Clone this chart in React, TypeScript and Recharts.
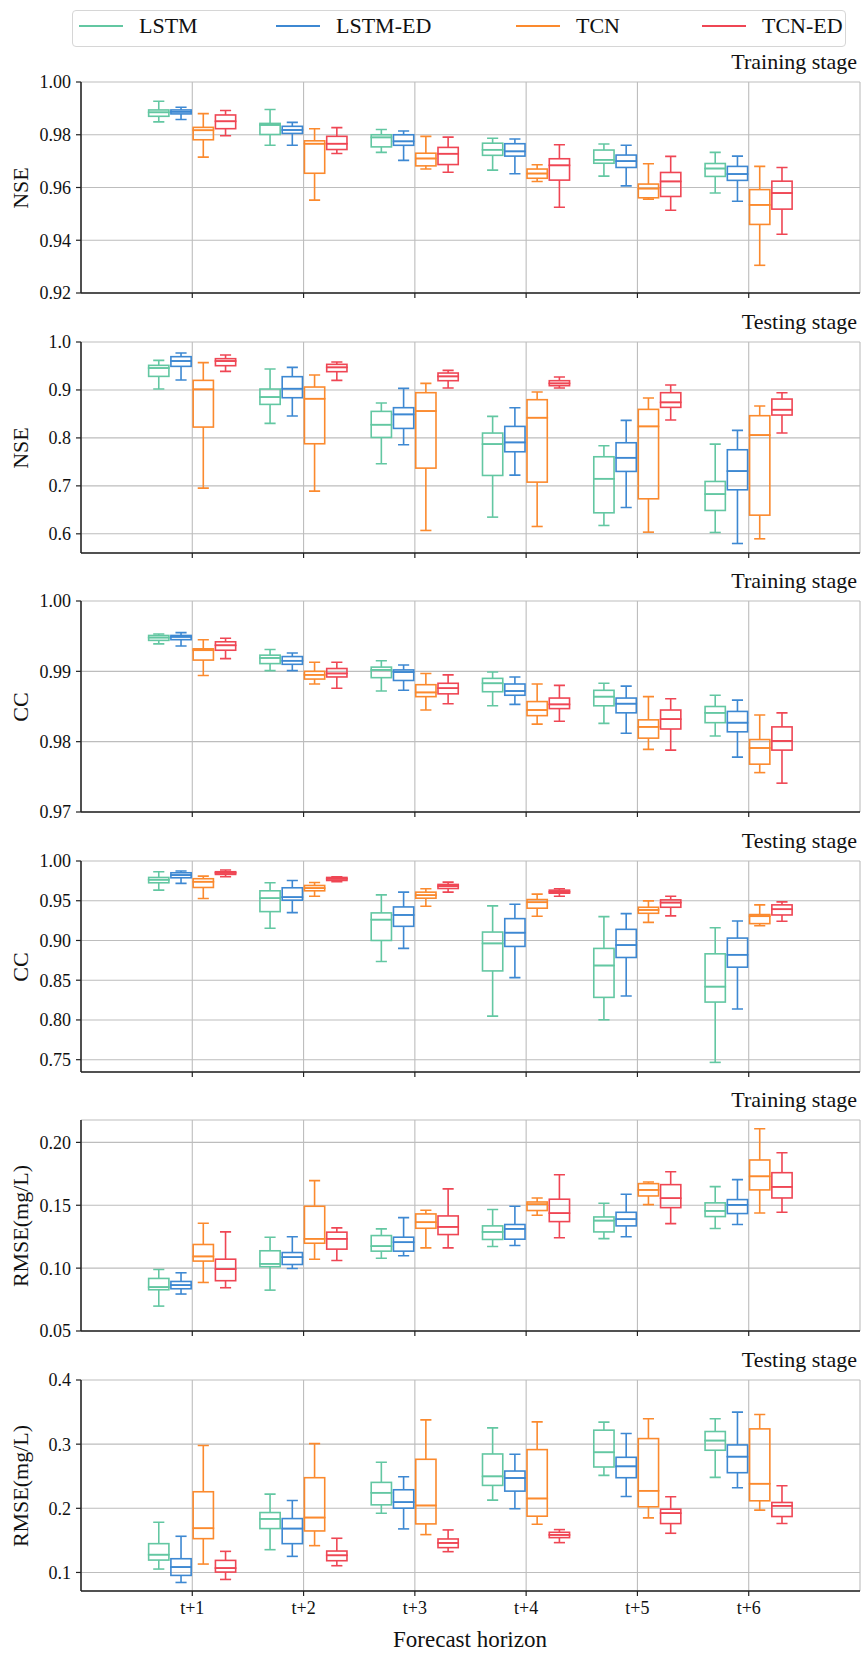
import React from "react";
import { ComposedChart, Bar, XAxis, YAxis, CartesianGrid } from "recharts";

const FONT = "'Liberation Serif', 'Times New Roman', serif";

const horizons = ["t+1", "t+2", "t+3", "t+4", "t+5", "t+6"];
const models = ["LSTM", "LSTM-ED", "TCN", "TCN-ED"];
const modelColors = ["#63c7a2", "#3d88d2", "#fb8a2e", "#ef4654"];

// each row: [lower whisker, q1, median, q3, upper whisker] for t+1 .. t+6
const nseTrainLstm = [
  [0.9849, 0.987, 0.9885, 0.9894, 0.9927],
  [0.976, 0.9801, 0.9837, 0.9843, 0.9896],
  [0.9733, 0.9754, 0.979, 0.98, 0.982],
  [0.9666, 0.9722, 0.9743, 0.9768, 0.9787],
  [0.9643, 0.9692, 0.9705, 0.9742, 0.9765],
  [0.9579, 0.9642, 0.9672, 0.9691, 0.9733],
];
const nseTrainLstmEd = [
  [0.9858, 0.9879, 0.9887, 0.9894, 0.9904],
  [0.976, 0.9805, 0.9818, 0.9832, 0.9847],
  [0.9703, 0.976, 0.9775, 0.98, 0.9814],
  [0.9652, 0.9719, 0.9737, 0.9766, 0.9784],
  [0.9606, 0.9676, 0.97, 0.9723, 0.976],
  [0.9548, 0.9627, 0.9651, 0.968, 0.9719],
];
const nseTrainTcn = [
  [0.9715, 0.9781, 0.9817, 0.9828, 0.988],
  [0.9552, 0.9654, 0.9766, 0.9777, 0.9823],
  [0.967, 0.9682, 0.971, 0.973, 0.9794],
  [0.9623, 0.9635, 0.9653, 0.967, 0.9686],
  [0.9556, 0.9561, 0.9596, 0.9613, 0.969],
  [0.9305, 0.946, 0.9534, 0.9592, 0.968],
];
const nseTrainTcnEd = [
  [0.9796, 0.9823, 0.9851, 0.9875, 0.9892],
  [0.9729, 0.9744, 0.9766, 0.9794, 0.9827],
  [0.9658, 0.9687, 0.9728, 0.9752, 0.9791],
  [0.9525, 0.9628, 0.9684, 0.9709, 0.9762],
  [0.9514, 0.9566, 0.9623, 0.9657, 0.9718],
  [0.9423, 0.9518, 0.9579, 0.9624, 0.9676],
];

const nseTestLstm = [
  [0.9019, 0.9283, 0.9457, 0.9513, 0.9617],
  [0.8303, 0.8699, 0.8852, 0.9019, 0.9437],
  [0.7461, 0.801, 0.8275, 0.8553, 0.8727],
  [0.6348, 0.7217, 0.7871, 0.8101, 0.8449],
  [0.6174, 0.6438, 0.7148, 0.7607, 0.7837],
  [0.6028, 0.6487, 0.6828, 0.7092, 0.7871],
];
const nseTestLstmEd = [
  [0.9207, 0.9492, 0.9603, 0.9694, 0.977],
  [0.8456, 0.8838, 0.9026, 0.9277, 0.9471],
  [0.7857, 0.8198, 0.849, 0.863, 0.9033],
  [0.7224, 0.7711, 0.7906, 0.824, 0.863],
  [0.655, 0.7301, 0.7586, 0.7899, 0.8365],
  [0.5798, 0.6918, 0.7308, 0.7753, 0.8157],
];
const nseTestTcn = [
  [0.6953, 0.8226, 0.9012, 0.92, 0.9569],
  [0.689, 0.7878, 0.8817, 0.9061, 0.9311],
  [0.607, 0.737, 0.856, 0.8943, 0.9137],
  [0.6153, 0.7078, 0.8421, 0.8797, 0.8957],
  [0.6035, 0.673, 0.824, 0.8595, 0.8831],
  [0.5896, 0.6389, 0.8059, 0.8463, 0.8664],
];
const nseTestTcnEd = [
  [0.9388, 0.9506, 0.9603, 0.9652, 0.9729],
  [0.92, 0.9381, 0.9471, 0.9534, 0.9583],
  [0.904, 0.9193, 0.9283, 0.9353, 0.9409],
  [0.904, 0.9089, 0.9137, 0.9193, 0.927],
  [0.8372, 0.8637, 0.8741, 0.8943, 0.9103],
  [0.8101, 0.8477, 0.8588, 0.881, 0.8943],
];

const ccTrainLstm = [
  [0.9939, 0.9944, 0.9948, 0.9951, 0.9953],
  [0.9901, 0.9911, 0.9919, 0.9923, 0.9931],
  [0.9872, 0.9891, 0.9902, 0.9906, 0.9915],
  [0.9851, 0.9871, 0.9883, 0.989, 0.9899],
  [0.9826, 0.9851, 0.9864, 0.9873, 0.9883],
  [0.9808, 0.9827, 0.9841, 0.985, 0.9866],
];
const ccTrainLstmEd = [
  [0.9936, 0.9945, 0.9949, 0.9951, 0.9955],
  [0.9901, 0.991, 0.9915, 0.9921, 0.9926],
  [0.9873, 0.9887, 0.9899, 0.9902, 0.9909],
  [0.9853, 0.9866, 0.9872, 0.9882, 0.9892],
  [0.9812, 0.9841, 0.9854, 0.9862, 0.9879],
  [0.9778, 0.9814, 0.9827, 0.9843, 0.9859],
];
const ccTrainTcn = [
  [0.9894, 0.9916, 0.993, 0.9932, 0.9945],
  [0.9882, 0.9889, 0.9895, 0.99, 0.9913],
  [0.9845, 0.9864, 0.987, 0.9881, 0.9897],
  [0.9825, 0.9837, 0.9845, 0.9857, 0.9882],
  [0.9789, 0.9805, 0.9821, 0.9831, 0.9864],
  [0.9756, 0.9768, 0.9791, 0.9803, 0.9838],
];
const ccTrainTcnEd = [
  [0.9918, 0.993, 0.9937, 0.9942, 0.9947],
  [0.9876, 0.9892, 0.9897, 0.9904, 0.9913],
  [0.9854, 0.9868, 0.9876, 0.9883, 0.9895],
  [0.9829, 0.9847, 0.9853, 0.9862, 0.988],
  [0.9788, 0.9818, 0.9832, 0.9845, 0.9861],
  [0.9741, 0.9788, 0.9801, 0.9821, 0.9841],
];

const ccTestLstm = [
  [0.9633, 0.9726, 0.9764, 0.9793, 0.9865],
  [0.9153, 0.9363, 0.9532, 0.9625, 0.9726],
  [0.8735, 0.9, 0.9262, 0.9347, 0.9574],
  [0.8048, 0.8617, 0.8963, 0.9106, 0.9435],
  [0.8002, 0.8284, 0.8685, 0.89, 0.93],
  [0.7466, 0.8225, 0.8419, 0.8832, 0.9161],
];
const ccTestLstmEd = [
  [0.9718, 0.9789, 0.9823, 0.9852, 0.9874],
  [0.9351, 0.9507, 0.9545, 0.9663, 0.9755],
  [0.89, 0.9178, 0.9321, 0.9422, 0.9608],
  [0.8533, 0.8925, 0.9098, 0.9275, 0.9456],
  [0.8301, 0.8786, 0.8942, 0.914, 0.9338],
  [0.8137, 0.8664, 0.882, 0.903, 0.9245],
];
const ccTestTcn = [
  [0.9528, 0.9667, 0.9739, 0.9777, 0.981],
  [0.9557, 0.9625, 0.9659, 0.9692, 0.973],
  [0.9431, 0.9532, 0.957, 0.9608, 0.965],
  [0.9304, 0.9406, 0.9481, 0.9515, 0.9583],
  [0.9228, 0.9342, 0.9384, 0.9418, 0.9498],
  [0.9186, 0.9212, 0.9305, 0.9326, 0.9448],
];
const ccTestTcnEd = [
  [0.9802, 0.9831, 0.9852, 0.9865, 0.9886],
  [0.9739, 0.9755, 0.9777, 0.9793, 0.9802],
  [0.9608, 0.9654, 0.9684, 0.9705, 0.9734],
  [0.9557, 0.9595, 0.9612, 0.9633, 0.965],
  [0.9309, 0.9418, 0.9477, 0.9511, 0.9557],
  [0.9241, 0.9321, 0.9393, 0.9448, 0.9486],
];

const rmseTrainLstm = [
  [0.0698, 0.0828, 0.0849, 0.0918, 0.0989],
  [0.0825, 0.1011, 0.1034, 0.1138, 0.1246],
  [0.1079, 0.1135, 0.1175, 0.1259, 0.1312],
  [0.1172, 0.1228, 0.1288, 0.1336, 0.1466],
  [0.1235, 0.1288, 0.1378, 0.1407, 0.1516],
  [0.1315, 0.141, 0.1455, 0.1519, 0.1648],
];
const rmseTrainLstmEd = [
  [0.0794, 0.0836, 0.0865, 0.0894, 0.0963],
  [0.0997, 0.1029, 0.1087, 0.1124, 0.1249],
  [0.1098, 0.1135, 0.1206, 0.1246, 0.1402],
  [0.118, 0.123, 0.1312, 0.1347, 0.1492],
  [0.1249, 0.1336, 0.1389, 0.1444, 0.1587],
  [0.1347, 0.1434, 0.1503, 0.1545, 0.1704],
];
const rmseTrainTcn = [
  [0.0886, 0.1056, 0.1093, 0.1188, 0.1357],
  [0.1071, 0.1198, 0.1233, 0.1492, 0.1696],
  [0.1161, 0.1317, 0.1365, 0.1431, 0.146],
  [0.1421, 0.1458, 0.1508, 0.1526, 0.1558],
  [0.1505, 0.1574, 0.1622, 0.1672, 0.1685],
  [0.1439, 0.1622, 0.173, 0.186, 0.2108],
];
const rmseTrainTcnEd = [
  [0.0844, 0.09, 0.0992, 0.1071, 0.1288],
  [0.1061, 0.1151, 0.1233, 0.1286, 0.132],
  [0.1161, 0.1267, 0.1328, 0.1415, 0.163],
  [0.1241, 0.137, 0.1437, 0.1548, 0.1743],
  [0.1354, 0.1481, 0.1556, 0.1664, 0.1767],
  [0.1444, 0.1558, 0.1646, 0.1759, 0.1918],
];

const rmseTestLstm = [
  [0.1053, 0.1193, 0.1277, 0.1449, 0.1783],
  [0.1355, 0.1684, 0.1835, 0.1934, 0.2221],
  [0.1924, 0.2054, 0.2242, 0.2404, 0.2717],
  [0.2127, 0.2357, 0.2498, 0.2847, 0.3254],
  [0.2513, 0.2644, 0.2873, 0.3218, 0.3343],
  [0.2482, 0.2905, 0.3056, 0.3197, 0.3395],
];
const rmseTestLstmEd = [
  [0.0844, 0.0954, 0.1084, 0.1214, 0.1564],
  [0.1251, 0.1449, 0.1684, 0.184, 0.2122],
  [0.1679, 0.2002, 0.2096, 0.2289, 0.2492],
  [0.1992, 0.2268, 0.2472, 0.2581, 0.2842],
  [0.2185, 0.2477, 0.2654, 0.2795, 0.3165],
  [0.232, 0.2555, 0.2805, 0.2988, 0.3499],
];
const rmseTestTcn = [
  [0.1131, 0.1527, 0.1689, 0.2258, 0.2978],
  [0.1418, 0.1647, 0.1856, 0.2477, 0.3009],
  [0.159, 0.1757, 0.2044, 0.2764, 0.3379],
  [0.1752, 0.1877, 0.2153, 0.2915, 0.3348],
  [0.1851, 0.2023, 0.2273, 0.3087, 0.3395],
  [0.1971, 0.2117, 0.2383, 0.3238, 0.3463],
];
const rmseTestTcnEd = [
  [0.0891, 0.1006, 0.1068, 0.1188, 0.1329],
  [0.1105, 0.1183, 0.1267, 0.1334, 0.1533],
  [0.1324, 0.1387, 0.146, 0.1522, 0.1663],
  [0.1465, 0.1543, 0.1585, 0.1626, 0.1668],
  [0.1611, 0.1762, 0.1924, 0.1986, 0.2179],
  [0.1762, 0.1872, 0.2039, 0.2091, 0.2352],
];

const panels = [
  { label: "NSE", stage: "Training stage", domain: [0.92, 1.0], ticks: [0.92, 0.94, 0.96, 0.98, 1.0], digits: 2,
    boxes: [nseTrainLstm, nseTrainLstmEd, nseTrainTcn, nseTrainTcnEd] },
  { label: "NSE", stage: "Testing stage", domain: [0.56, 1.0], ticks: [0.6, 0.7, 0.8, 0.9, 1.0], digits: 1,
    boxes: [nseTestLstm, nseTestLstmEd, nseTestTcn, nseTestTcnEd] },
  { label: "CC", stage: "Training stage", domain: [0.97, 1.0], ticks: [0.97, 0.98, 0.99, 1.0], digits: 2,
    boxes: [ccTrainLstm, ccTrainLstmEd, ccTrainTcn, ccTrainTcnEd] },
  { label: "CC", stage: "Testing stage", domain: [0.7345, 1.0], ticks: [0.75, 0.8, 0.85, 0.9, 0.95, 1.0], digits: 2,
    boxes: [ccTestLstm, ccTestLstmEd, ccTestTcn, ccTestTcnEd] },
  { label: "RMSE(mg/L)", stage: "Training stage", domain: [0.05, 0.2178], ticks: [0.05, 0.1, 0.15, 0.2], digits: 2,
    boxes: [rmseTrainLstm, rmseTrainLstmEd, rmseTrainTcn, rmseTrainTcnEd] },
  { label: "RMSE(mg/L)", stage: "Testing stage", domain: [0.0711, 0.4], ticks: [0.1, 0.2, 0.3, 0.4], digits: 1,
    boxes: [rmseTestLstm, rmseTestLstmEd, rmseTestTcn, rmseTestTcnEd] },
];

const parts = ["base", "lw", "b1", "b2", "uw"];

// stacked segments: invisible base, lower whisker, lower box half, upper box half, upper whisker
const toRows = (boxes: number[][][]) =>
  horizons.map((h, i) => {
    const row: any = { h };
    boxes.forEach((b, m) => {
      const [lo, q1, med, q3, hi] = b[i];
      row[`m${m}_base`] = lo;
      row[`m${m}_lw`] = q1 - lo;
      row[`m${m}_b1`] = med - q1;
      row[`m${m}_b2`] = q3 - med;
      row[`m${m}_uw`] = hi - q3;
    });
    return row;
  });

const segmentShape = (part: string, color: string) => (props: any) => {
  const { x, y, width, height } = props;
  if (part === "base" || x == null || y == null || isNaN(y)) return <g />;
  const cx = x + width / 2;
  const cap = width / 4;
  const st = { stroke: color, strokeWidth: 1.6, fill: "none" };
  if (part === "lw") {
    return (
      <g>
        <line x1={cx} x2={cx} y1={y} y2={y + height} {...st} />
        <line x1={cx - cap} x2={cx + cap} y1={y + height} y2={y + height} {...st} />
      </g>
    );
  }
  if (part === "uw") {
    return (
      <g>
        <line x1={cx} x2={cx} y1={y} y2={y + height} {...st} />
        <line x1={cx - cap} x2={cx + cap} y1={y} y2={y} {...st} />
      </g>
    );
  }
  return <rect x={x + 1} y={y} width={width - 2} height={height} {...st} />;
};

const plotTops = [82, 342, 601, 861, 1120, 1380];
const PLOT_H = 211;
const TOP_PAD = 15;
const frame = { stroke: "#222", strokeWidth: 1.5 };

const Panel = ({ panel, top, last }: { panel: any; top: number; last: boolean }) => {
  const rows = toRows(panel.boxes);
  return (
    <>
      <div style={{ position: "absolute", right: 4, top: top - 33, lineHeight: "26px", fontSize: 22, fontFamily: FONT, color: "#111" }}>
        {panel.stage}
      </div>
      <div
        style={{
          position: "absolute", left: 21, top: top + PLOT_H / 2, transform: "translate(-50%, -50%) rotate(-90deg)",
          whiteSpace: "nowrap", fontSize: 22, fontFamily: FONT, color: "#111",
        }}
      >
        {panel.label}
      </div>
      <div style={{ position: "absolute", left: 0, top: top - TOP_PAD }}>
        <ComposedChart
          width={861}
          height={TOP_PAD + PLOT_H + 30}
          data={rows}
          margin={{ top: TOP_PAD, right: 1, bottom: 0, left: 0 }}
          barSize={22.26}
          barGap={0}
          barCategoryGap={0}
        >
          <CartesianGrid stroke="#bdbdbd" strokeWidth={1.1} />
          <XAxis
            dataKey="h"
            padding={{ left: 55.64, right: 55.64 }}
            height={30}
            interval={0}
            tickSize={5}
            tickMargin={5}
            tickFormatter={(v: string) => (last ? v : "")}
            tick={{ fontSize: 18, fill: "#111", fontFamily: FONT }}
            axisLine={frame}
            tickLine={{ stroke: "#222", strokeWidth: 1.2 }}
          />
          <XAxis xAxisId="top" orientation="top" dataKey="h" height={0} tick={false} tickLine={false} axisLine={frame} />
          <YAxis
            type="number"
            domain={panel.domain}
            ticks={panel.ticks}
            allowDataOverflow
            width={81}
            interval={0}
            tickSize={5}
            tickMargin={5}
            tickFormatter={(v: number) => v.toFixed(panel.digits)}
            tick={{ fontSize: 18, fill: "#111", fontFamily: FONT }}
            axisLine={frame}
            tickLine={{ stroke: "#222", strokeWidth: 1.2 }}
          />
          <YAxis yAxisId="right" orientation="right" width={0} domain={panel.domain} allowDataOverflow tick={false} tickLine={false} axisLine={frame} />
          {models.map((m, k) =>
            parts.map((part) => (
              <Bar
                key={`${m}-${part}`}
                dataKey={`m${k}_${part}`}
                stackId={`m${k}`}
                shape={segmentShape(part, modelColors[k])}
                isAnimationActive={false}
              />
            ))
          )}
        </ComposedChart>
      </div>
    </>
  );
};

const legendX = [79, 276, 516, 702];

export default function App() {
  return (
    <div style={{ position: "absolute", left: 0, top: 0, width: 861, height: 1655, background: "#fff", fontFamily: FONT }}>
      <div
        style={{
          position: "absolute", left: 72, top: 10, width: 774, height: 37, boxSizing: "border-box",
          border: "1px solid #d6d6d6", borderRadius: 4,
        }}
      />
      {models.map((m, k) => (
        <React.Fragment key={m}>
          <div style={{ position: "absolute", left: legendX[k], top: 25, width: 44, height: 2, background: modelColors[k] }} />
          <div style={{ position: "absolute", left: legendX[k] + 60, top: 13, lineHeight: "26px", fontSize: 22, color: "#111" }}>{m}</div>
        </React.Fragment>
      ))}
      {panels.map((p, i) => (
        <Panel key={i} panel={p} top={plotTops[i]} last={i === panels.length - 1} />
      ))}
      <div style={{ position: "absolute", left: 470, top: 1640, transform: "translate(-50%, -50%)", fontSize: 23, color: "#111", whiteSpace: "nowrap" }}>
        Forecast horizon
      </div>
    </div>
  );
}
